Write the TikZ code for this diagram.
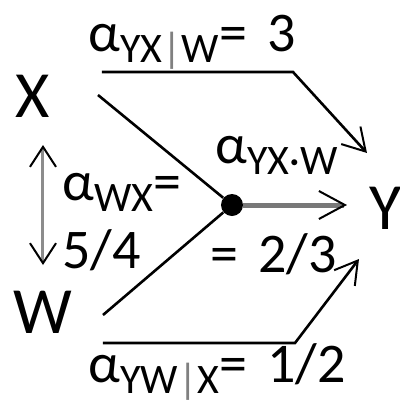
\documentclass[tikz,border=0pt]{standalone}
\usepackage{fontspec}
\setmainfont{Carlito}
\usetikzlibrary{arrows.meta}
\definecolor{linegray}{RGB}{120,120,120}
\definecolor{bargray}{RGB}{140,140,140}
% lowered subscript in the labels
\newcommand{\sbs}[1]{\raisebox{-5.5pt}{\fontsize{21}{21}\selectfont #1}}

\begin{document}
\begin{tikzpicture}[
        x=0.5pt, y=-0.5pt,
        var/.style={font=\fontsize{33}{33}\selectfont, inner sep=0pt},
        lbl/.style={font={\fontsize{28}{34}\selectfont\spaceskip=10pt\relax}, inner sep=0pt, anchor=base west, align=left},
        link/.style={line width=1.3pt, -{Straight Barb[length=11pt, width=13pt, line width=1pt]}},
        hub/.style={circle, fill=black, inner sep=0pt, minimum size=11pt}
    ]
        \useasboundingbox (0,0) rectangle (400,403);

        % variables
        \node[var] (X) at (33,96) {X};
        \node[var] (W) at (43,312) {W};
        \node[var] (Y) at (386,208) {Y};
        \node[hub] (dot) at (232,205) {};

        % free ends
        \coordinate (xs) at (98,95);
        \coordinate (ws) at (103,315);
        \coordinate (ytip) at (347,205);
        \coordinate (tl) at (102,72);
        \coordinate (tr) at (293,72);
        \coordinate (ttip) at (367,153);
        \coordinate (bl) at (103,343);
        \coordinate (br) at (295,343);
        \coordinate (btip) at (359,259);
        \coordinate (wxa) at (43,145);
        \coordinate (wxb) at (43,265);

        % paths into the collider
        \draw[line width=1.3pt] (xs) -- (dot);
        \draw[line width=1.3pt] (ws) -- (dot);
        \draw[link, linegray, line width=2.5pt, -{Straight Barb[length=13pt, width=14pt, line width=1pt, color=black]}] (dot) -- (ytip);

        % conditional paths
        \draw[link] (tl) -- (tr) -- (ttip);
        \draw[link] (bl) -- (br) -- (btip);

        % correlation of X and W
        \draw[bargray, line width=1.5pt, {Straight Barb[length=10pt, width=13pt, line width=1pt, color=black]}-{Straight Barb[length=10pt, width=13pt, line width=1pt, color=black]}] (wxa) -- (wxb);

        % labels
        \node[lbl] (lyxw) at (88,51) {α\sbs{YX\textcolor{gray}{|}W}= 3};
        \node[lbl] (lwx) at (62,268) {α\sbs{WX}=\\5/4};
        \node[lbl] (lyxdw) at (215,163) {α\sbs{YX·W}};
        \node[lbl] (lyxdwv) at (210,272) {= 2/3};
        \node[lbl] (lywx) at (88,382) {α\sbs{YW\textcolor{gray}{|}X}= 1/2};
    \end{tikzpicture}
\end{document}
